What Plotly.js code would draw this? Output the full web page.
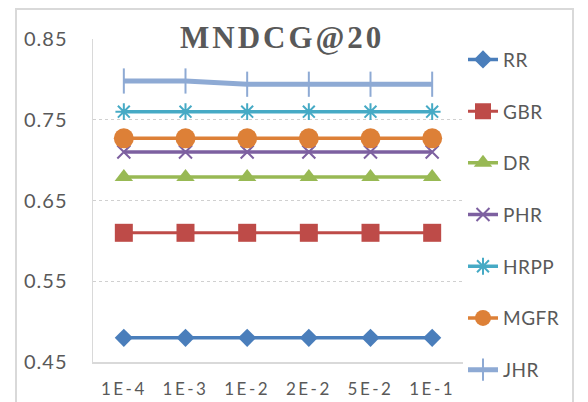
<!DOCTYPE html>
<html>
<head>
<meta charset="utf-8">
<script src="https://cdn.plot.ly/plotly-3.0.1.min.js"></script>
<style>
  html, body { margin: 0; padding: 0; background: #fff; }
  #wrap { position: relative; width: 588px; height: 402px; overflow: hidden; }
  #frame { position: absolute; left: 15px; top: 8px; width: 555px; height: 420px; border: 2px solid #d9d9d9; box-sizing: content-box; }
  #chart { position: absolute; left: 0; top: 0; width: 588px; height: 402px; }
  .xtick text { letter-spacing: 2.5px; }
  .ytick text { letter-spacing: 1px; }
  .legendtext { letter-spacing: 0.5px; }
  .annotation-text { letter-spacing: 3px; }
</style>
</head>
<body>
<div id="wrap">
  <div id="frame"></div>
  <div id="chart"></div>
</div>
<script>
const categories = ['1E-4', '1E-3', '1E-2', '2E-2', '5E-2', '1E-1'];
const seriesNames = ['RR', 'GBR', 'DR', 'PHR', 'HRPP', 'MGFR', 'JHR'];
const RR   = [0.480, 0.480, 0.480, 0.480, 0.480, 0.480];
const GBR  = [0.610, 0.610, 0.610, 0.610, 0.610, 0.610];
const DR   = [0.679, 0.679, 0.679, 0.679, 0.679, 0.679];
const PHR  = [0.710, 0.710, 0.710, 0.710, 0.710, 0.710];
const HRPP = [0.760, 0.760, 0.760, 0.760, 0.760, 0.760];
const MGFR = [0.727, 0.727, 0.727, 0.727, 0.727, 0.727];
const JHR  = [0.798, 0.798, 0.794, 0.794, 0.794, 0.794];
const yTicks = [0.45, 0.55, 0.65, 0.75, 0.85];
const yTickText = ['0.45', '0.55', '0.65', '0.75', '0.85'];

const values = [RR, GBR, DR, PHR, HRPP, MGFR, JHR];
const colors = ['#4a7ebb', '#be4b48', '#98b954', '#7d60a0', '#46aac5', '#dd8037', '#8eaad4'];
const symbols = ['diamond', 'square', 'triangle-up', 'x-thin-open', 'asterisk-open', 'circle', 'line-ns-open'];
const sizes = [14, 18, 16, 13, 14, 20, 18];
const lineWidths = [3.5, 3, 3.5, 3.5, 3.5, 3.5, 5];

const traces = seriesNames.map((name, i) => {
  const open = symbols[i].indexOf('open') >= 0;
  return {
    x: categories,
    y: values[i],
    name: name,
    type: 'scatter',
    mode: 'lines+markers',
    legendgroup: name,
    line: { color: colors[i], width: lineWidths[i] },
    marker: {
      symbol: symbols[i],
      size: sizes[i],
      color: colors[i],
      line: { color: colors[i], width: open ? 2 : 0 }
    }
  };
});

const layout = {
  width: 588,
  height: 402,
  margin: { l: 93, r: 125, t: 39, b: 40 },
  paper_bgcolor: 'rgba(0,0,0,0)',
  plot_bgcolor: 'rgba(0,0,0,0)',
  font: { family: 'Lato, "Open Sans", sans-serif', color: '#595959' },
  showlegend: true,
  legend: {
    x: 1.0, xanchor: 'left',
    y: 0.995, yanchor: 'top',
    font: { size: 19, color: '#595959' },
    tracegroupgap: 24,
    maxheight: 400,
    bgcolor: 'rgba(0,0,0,0)',
    borderwidth: 0
  },
  xaxis: {
    type: 'category',
    range: [-0.5, 5.5],
    showgrid: false,
    zeroline: false,
    showline: true,
    linecolor: '#d9d9d9',
    linewidth: 1.5,
    ticks: 'outside',
    ticklen: 11,
    tickcolor: 'rgba(0,0,0,0)',
    tickfont: { size: 17, color: '#595959' },
    fixedrange: true
  },
  yaxis: {
    range: [0.45, 0.85],
    tickvals: yTicks,
    ticktext: yTickText,
    showgrid: true,
    gridcolor: '#d0d0d0',
    griddash: 'dot',
    gridwidth: 1,
    zeroline: false,
    showline: true,
    linecolor: '#d9d9d9',
    linewidth: 1.5,
    ticks: 'outside',
    ticklen: 20,
    tickcolor: 'rgba(0,0,0,0)',
    tickfont: { size: 20, color: '#595959' },
    fixedrange: true
  },
  annotations: [{
    text: '<b>MNDCG@20</b>',
    xref: 'paper', yref: 'paper',
    x: (282 - 93) / 370, y: 1 + 1 / 323,
    xanchor: 'center', yanchor: 'middle',
    showarrow: false,
    bgcolor: '#ffffff',
    borderpad: 2,
    font: { family: '"Liberation Serif", "Times New Roman", serif', size: 31, color: '#595959' }
  }]
};

Plotly.newPlot('chart', traces, layout, { displayModeBar: false, staticPlot: true });
</script>
</body>
</html>
